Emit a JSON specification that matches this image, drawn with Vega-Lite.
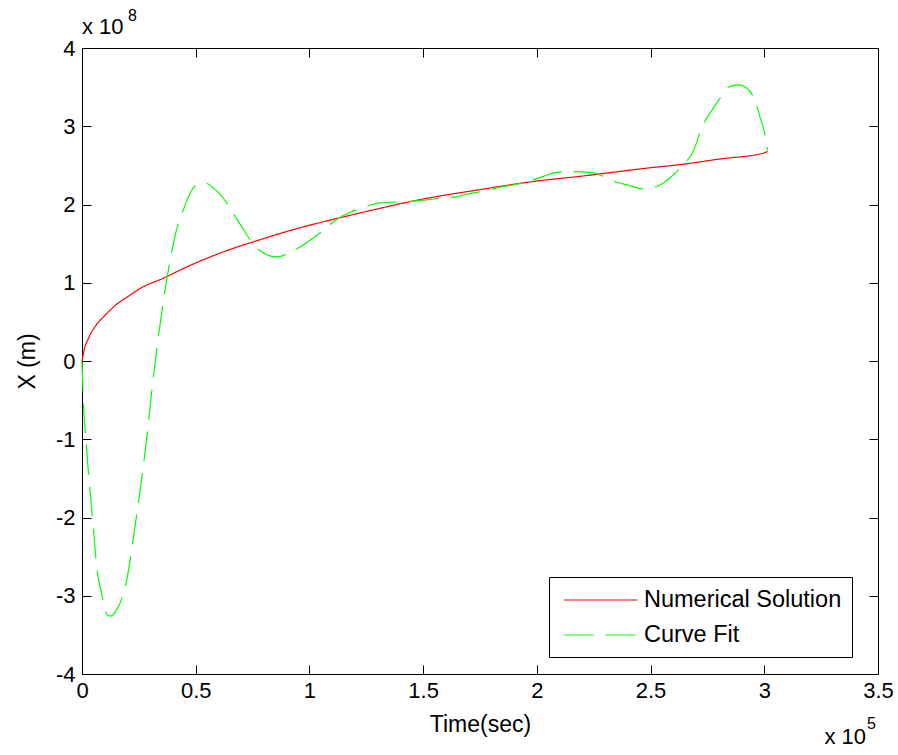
{
  "$schema": "https://vega.github.io/schema/vega-lite/v6.json",
  "width": 796,
  "height": 626,
  "autosize": {"type": "none"},
  "padding": {"left": 82, "top": 48, "right": 20, "bottom": 81},
  "background": "white",
  "config": {
    "view": {"stroke": "black", "strokeWidth": 1},
    "font": "Liberation Sans",
    "axis": {
      "labelFont": "Liberation Sans",
      "titleFont": "Liberation Sans",
      "labelFontSize": 22,
      "titleFontSize": 23,
      "titleFontWeight": "normal",
      "labelColor": "#000",
      "titleColor": "#000",
      "tickColor": "#000",
      "tickWidth": 1,
      "tickSize": -9,
      "domain": false,
      "grid": false,
      "labelFlush": false,
      "labelOverlap": false,
      "labelBound": false
    },
    "legend": {
      "labelFont": "Liberation Sans",
      "labelFontSize": 23.5,
      "labelColor": "#000",
      "labelLimit": 0
    }
  },
  "datasets": {
    "curves": [
      {"series": "Numerical Solution", "time": 0, "x": 0},
      {"series": "Numerical Solution", "time": 1000, "x": 15000000},
      {"series": "Numerical Solution", "time": 3000, "x": 30000000},
      {"series": "Numerical Solution", "time": 6000, "x": 45000000},
      {"series": "Numerical Solution", "time": 10000, "x": 58000000},
      {"series": "Numerical Solution", "time": 15000, "x": 72000000},
      {"series": "Numerical Solution", "time": 20000, "x": 82000000},
      {"series": "Numerical Solution", "time": 27000, "x": 95000000},
      {"series": "Numerical Solution", "time": 34300, "x": 104000000},
      {"series": "Numerical Solution", "time": 49000, "x": 124000000},
      {"series": "Numerical Solution", "time": 63600, "x": 141000000},
      {"series": "Numerical Solution", "time": 78300, "x": 155000000},
      {"series": "Numerical Solution", "time": 93000, "x": 168000000},
      {"series": "Numerical Solution", "time": 107600, "x": 179000000},
      {"series": "Numerical Solution", "time": 122000, "x": 189000000},
      {"series": "Numerical Solution", "time": 150000, "x": 207000000},
      {"series": "Numerical Solution", "time": 175000, "x": 219000000},
      {"series": "Numerical Solution", "time": 200000, "x": 230000000},
      {"series": "Numerical Solution", "time": 219000, "x": 236000000},
      {"series": "Numerical Solution", "time": 250000, "x": 247000000},
      {"series": "Numerical Solution", "time": 263000, "x": 251000000},
      {"series": "Numerical Solution", "time": 280000, "x": 258000000},
      {"series": "Numerical Solution", "time": 300000, "x": 266000000},
      {"series": "Numerical Solution", "time": 301400, "x": 268000000},
      {"series": "Curve Fit", "time": 0, "x": 0},
      {"series": "Curve Fit", "time": 500, "x": -45000000},
      {"series": "Curve Fit", "time": 2000, "x": -111000000},
      {"series": "Curve Fit", "time": 3500, "x": -166000000},
      {"series": "Curve Fit", "time": 5000, "x": -213000000},
      {"series": "Curve Fit", "time": 6500, "x": -264000000},
      {"series": "Curve Fit", "time": 8700, "x": -298000000},
      {"series": "Curve Fit", "time": 11000, "x": -324000000},
      {"series": "Curve Fit", "time": 12500, "x": -326000000},
      {"series": "Curve Fit", "time": 15000, "x": -319000000},
      {"series": "Curve Fit", "time": 19600, "x": -281000000},
      {"series": "Curve Fit", "time": 22600, "x": -226000000},
      {"series": "Curve Fit", "time": 25500, "x": -166000000},
      {"series": "Curve Fit", "time": 28500, "x": -98000000},
      {"series": "Curve Fit", "time": 30700, "x": -38000000},
      {"series": "Curve Fit", "time": 32800, "x": 13000000},
      {"series": "Curve Fit", "time": 35800, "x": 77000000},
      {"series": "Curve Fit", "time": 38700, "x": 128000000},
      {"series": "Curve Fit", "time": 41600, "x": 168000000},
      {"series": "Curve Fit", "time": 43800, "x": 187000000},
      {"series": "Curve Fit", "time": 48900, "x": 221000000},
      {"series": "Curve Fit", "time": 53300, "x": 228000000},
      {"series": "Curve Fit", "time": 60700, "x": 213000000},
      {"series": "Curve Fit", "time": 69500, "x": 175000000},
      {"series": "Curve Fit", "time": 73900, "x": 155000000},
      {"series": "Curve Fit", "time": 78300, "x": 141000000},
      {"series": "Curve Fit", "time": 85600, "x": 133000000},
      {"series": "Curve Fit", "time": 92900, "x": 141000000},
      {"series": "Curve Fit", "time": 106100, "x": 167000000},
      {"series": "Curve Fit", "time": 112000, "x": 181000000},
      {"series": "Curve Fit", "time": 117900, "x": 190000000},
      {"series": "Curve Fit", "time": 124500, "x": 197000000},
      {"series": "Curve Fit", "time": 131000, "x": 202000000},
      {"series": "Curve Fit", "time": 144200, "x": 204000000},
      {"series": "Curve Fit", "time": 151600, "x": 206000000},
      {"series": "Curve Fit", "time": 157400, "x": 208000000},
      {"series": "Curve Fit", "time": 164800, "x": 210000000},
      {"series": "Curve Fit", "time": 170600, "x": 214000000},
      {"series": "Curve Fit", "time": 176500, "x": 217000000},
      {"series": "Curve Fit", "time": 183800, "x": 222000000},
      {"series": "Curve Fit", "time": 191200, "x": 226000000},
      {"series": "Curve Fit", "time": 195600, "x": 229000000},
      {"series": "Curve Fit", "time": 202900, "x": 236000000},
      {"series": "Curve Fit", "time": 208700, "x": 241000000},
      {"series": "Curve Fit", "time": 214600, "x": 242000000},
      {"series": "Curve Fit", "time": 223400, "x": 241000000},
      {"series": "Curve Fit", "time": 229200, "x": 236000000},
      {"series": "Curve Fit", "time": 233600, "x": 230000000},
      {"series": "Curve Fit", "time": 241000, "x": 224000000},
      {"series": "Curve Fit", "time": 246800, "x": 220000000},
      {"series": "Curve Fit", "time": 254200, "x": 225000000},
      {"series": "Curve Fit", "time": 259300, "x": 236000000},
      {"series": "Curve Fit", "time": 264400, "x": 251000000},
      {"series": "Curve Fit", "time": 268800, "x": 268000000},
      {"series": "Curve Fit", "time": 272500, "x": 298000000},
      {"series": "Curve Fit", "time": 276200, "x": 317000000},
      {"series": "Curve Fit", "time": 280600, "x": 336000000},
      {"series": "Curve Fit", "time": 285000, "x": 351000000},
      {"series": "Curve Fit", "time": 288600, "x": 353000000},
      {"series": "Curve Fit", "time": 292300, "x": 349000000},
      {"series": "Curve Fit", "time": 296000, "x": 332000000},
      {"series": "Curve Fit", "time": 298200, "x": 311000000},
      {"series": "Curve Fit", "time": 299900, "x": 294000000},
      {"series": "Curve Fit", "time": 301100, "x": 277000000},
      {"series": "Curve Fit", "time": 301400, "x": 269000000}
    ],
    "one": [{}]
  },
  "resolve": {"axis": {"x": "independent", "y": "independent"}},
  "layer": [
    {
      "data": {"name": "curves"},
      "mark": {"type": "line", "strokeWidth": 1.2, "interpolate": "monotone"},
      "encoding": {
        "x": {
          "field": "time", "type": "quantitative",
          "scale": {"domain": [0, 350000], "nice": false, "zero": false},
          "axis": {
            "orient": "bottom",
            "values": [0, 50000, 100000, 150000, 200000, 250000, 300000, 350000],
            "labelExpr": "datum.value / 100000",
            "labelPadding": 15,
            "title": "Time(sec)",
            "titleY": 50,
            "titleBaseline": "middle"
          }
        },
        "y": {
          "field": "x", "type": "quantitative",
          "scale": {"domain": [-400000000, 400000000], "nice": false, "zero": false},
          "axis": {
            "orient": "left",
            "values": [-400000000, -300000000, -200000000, -100000000, 0, 100000000, 200000000, 300000000, 400000000],
            "labelExpr": "datum.value / 100000000",
            "labelPadding": 16,
            "title": "X (m)",
            "titleX": -55,
            "titleY": 313,
            "titleAngle": -90,
            "titleBaseline": "middle",
            "titleAlign": "center"
          }
        },
        "color": {
          "field": "series", "type": "nominal",
          "scale": {"domain": ["Numerical Solution", "Curve Fit"], "range": ["#ff0000", "#00ff00"]},
          "legend": {
            "title": null,
            "orient": "none",
            "legendX": 467,
            "legendY": 529,
            "strokeColor": "black",
            "fillColor": "white",
            "padding": 10,
            "symbolOffset": 4,
            "symbolType": "M-1,0H5",
            "symbolSize": 608,
            "symbolStrokeWidth": 1.2,
            "labelOffset": 55,
            "rowPadding": 10
          }
        },
        "strokeDash": {
          "field": "series", "type": "nominal",
          "scale": {"domain": ["Numerical Solution", "Curve Fit"], "range": [[1, 0], [30, 12]]},
          "legend": {
            "title": null,
            "orient": "none",
            "legendX": 467,
            "legendY": 529,
            "strokeColor": "black",
            "fillColor": "white",
            "padding": 10,
            "symbolOffset": 4,
            "symbolType": "M-1,0H5",
            "symbolSize": 608,
            "symbolStrokeWidth": 1.2,
            "labelOffset": 55,
            "rowPadding": 10
          }
        }
      }
    },
    {
      "data": {"name": "curves"},
      "mark": {"type": "line", "strokeOpacity": 0},
      "encoding": {
        "x": {
          "field": "time", "type": "quantitative",
          "axis": {
            "orient": "top",
            "values": [0, 50000, 100000, 150000, 200000, 250000, 300000, 350000],
            "labels": false,
            "title": null
          }
        },
        "y": {
          "field": "x", "type": "quantitative",
          "axis": {
            "orient": "right",
            "values": [-400000000, -300000000, -200000000, -100000000, 0, 100000000, 200000000, 300000000, 400000000],
            "labels": false,
            "title": null
          }
        }
      }
    },
    {
      "data": {"name": "one"},
      "mark": {"type": "text", "text": "x 10", "align": "left", "baseline": "middle", "fontSize": 22, "font": "Liberation Sans", "color": "#000", "dx": 0, "dy": -21},
      "encoding": {"x": {"datum": 0, "type": "quantitative", "axis": null}, "y": {"datum": 400000000, "type": "quantitative", "axis": null}}
    },
    {
      "data": {"name": "one"},
      "mark": {"type": "text", "text": "8", "align": "left", "baseline": "middle", "fontSize": 16, "font": "Liberation Sans", "color": "#000", "dx": 46, "dy": -32},
      "encoding": {"x": {"datum": 0, "type": "quantitative", "axis": null}, "y": {"datum": 400000000, "type": "quantitative", "axis": null}}
    },
    {
      "data": {"name": "one"},
      "mark": {"type": "text", "text": "x 10", "align": "right", "baseline": "middle", "fontSize": 22, "font": "Liberation Sans", "color": "#000", "dx": -12, "dy": 63},
      "encoding": {"x": {"datum": 350000, "type": "quantitative", "axis": null}, "y": {"datum": -400000000, "type": "quantitative", "axis": null}}
    },
    {
      "data": {"name": "one"},
      "mark": {"type": "text", "text": "5", "align": "left", "baseline": "middle", "fontSize": 16, "font": "Liberation Sans", "color": "#000", "dx": -11, "dy": 50},
      "encoding": {"x": {"datum": 350000, "type": "quantitative", "axis": null}, "y": {"datum": -400000000, "type": "quantitative", "axis": null}}
    }
  ]
}
